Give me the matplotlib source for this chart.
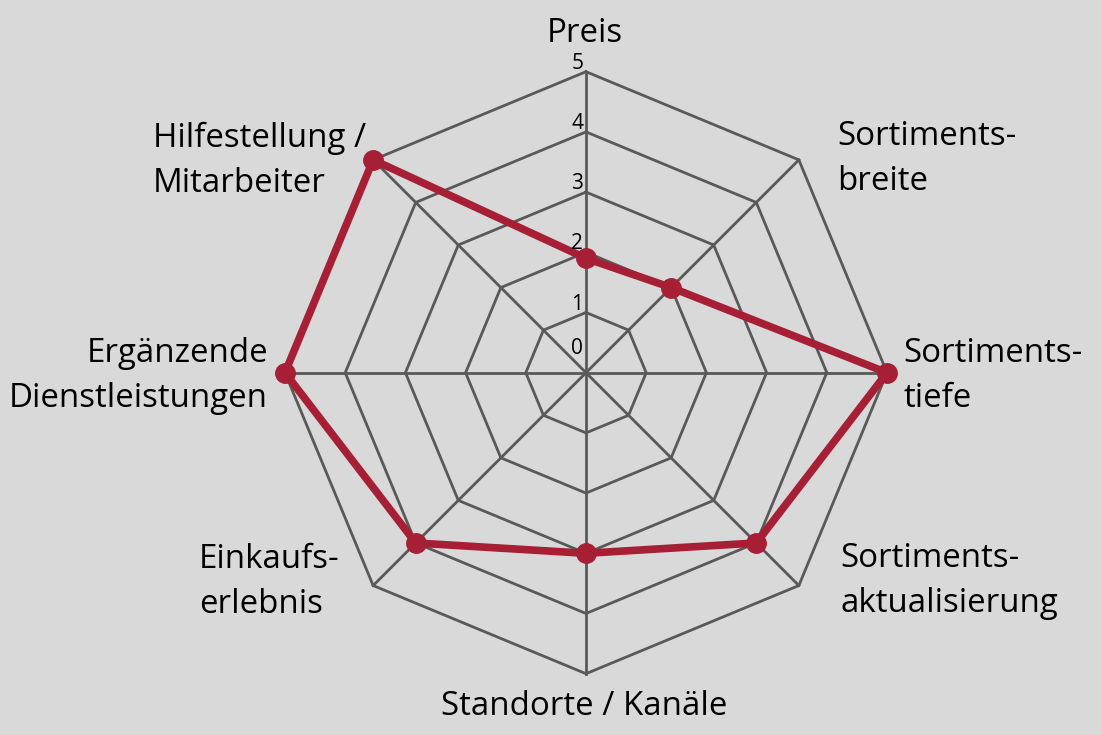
import numpy as np
import matplotlib
matplotlib.use("Agg")
import matplotlib.pyplot as plt

# ---------------- data ----------------
categories = ["Preis", "Sortiments-\nbreite", "Sortiments-\ntiefe",
              "Sortiments-\naktualisierung", "Standorte / Kanäle",
              "Einkaufs-\nerlebnis", "Ergänzende\nDienstleistungen",
              "Hilfestellung /\nMitarbeiter"]
values = [1.9, 2, 5, 4, 3, 4, 5, 5]
tick_values = [0, 1, 2, 3, 4, 5]
tick_labels = ["0", "1", "2", "3", "4", "5"]

# ---------------- style ----------------
W, H = 1102, 735
BG = "#d9d9d9"
GRID = "#595959"
RED = "#a61f35"
FONT = "Open Sans"

fig = plt.figure(figsize=(W / 100, H / 100), dpi=100, facecolor=BG)

cx, cy, R = 586, 372.7, 301
ax = fig.add_axes([(cx - R) / W, (H - cy - R) / H, 2 * R / W, 2 * R / H],
                  projection="polar")
ax.set_facecolor("none")
ax.set_theta_zero_location("N")
ax.set_theta_direction(-1)
ax.set_ylim(0, 5)
ax.spines["polar"].set_visible(False)
ax.grid(False)
ax.set_xticks([])
ax.set_yticks([])

n = len(categories)
angles = np.arange(n) * 2 * np.pi / n
closed = np.append(angles, angles[0])

# polygon grid
for lv in tick_values[1:]:
    ax.plot(closed, [lv] * (n + 1), color=GRID, lw=2.0, zorder=1,
            solid_joinstyle="miter", clip_on=False)
for a in angles:
    ax.plot([a, a], [0, tick_values[-1]], color=GRID, lw=2.0, zorder=1,
            clip_on=False)

# data series
vals_closed = values + values[:1]
ax.plot(closed, vals_closed, color=RED, lw=5.5, zorder=3,
        solid_joinstyle="round", clip_on=False)
ax.plot(angles, values, "o", color=RED, ms=14, zorder=4, clip_on=False)

# radial tick labels
for v, t in zip(tick_values, tick_labels):
    dy = 10 if v == 0 else -1.5
    ax.annotate(t, xy=(0, v), xytext=(-2, dy), textcoords="offset points",
                ha="right", va="bottom", fontsize=15, family=FONT,
                color="#000000", zorder=5, annotation_clip=False)

# category labels: (x px, first baseline px, align)
label_pos = [
    (585, 42, "center"),
    (837, 145, "left"),
    (903, 362, "left"),
    (840, 567, "left"),
    (584, 715, "center"),
    (199, 568, "left"),
    (268, 362, "right"),
    (153, 147, "left"),
]
LS = 45
for lab, (x, y, ha) in zip(categories, label_pos):
    for i, line in enumerate(lab.split("\n")):
        fig.text(x / W, 1 - (y + i * LS) / H, line, ha=ha, va="baseline",
                 fontsize=23.8, family=FONT, color="#000000")

fig.savefig("out.png", dpi=100, facecolor=BG)
